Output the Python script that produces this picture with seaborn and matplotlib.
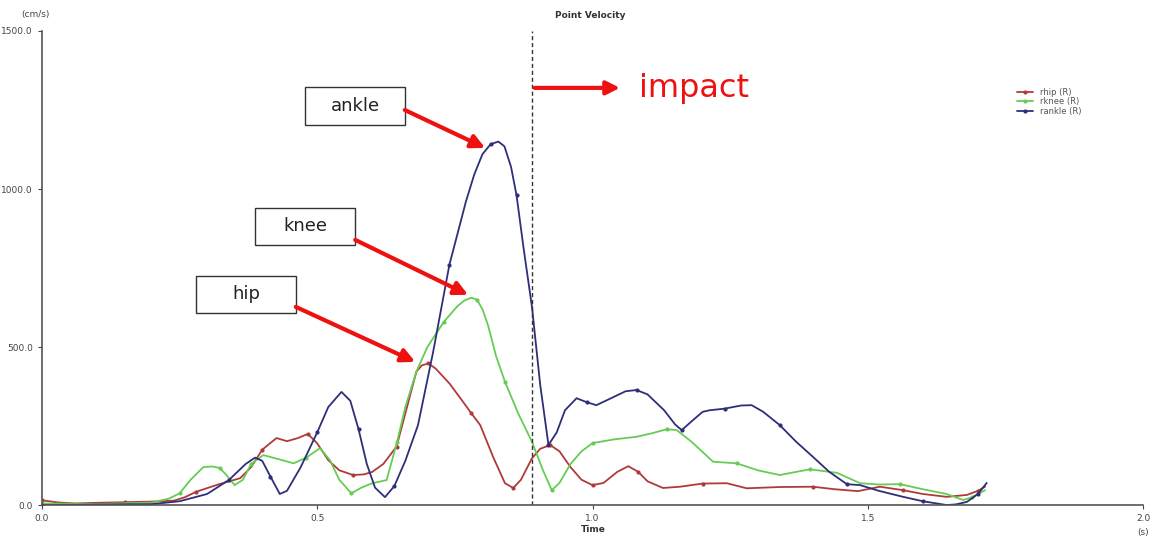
import numpy as np
import pandas as pd
import matplotlib
matplotlib.use("Agg")
import matplotlib.pyplot as plt
from matplotlib.patches import Rectangle
import seaborn as sns

# ---- data ----
hip_t = [0.0, 0.03, 0.06, 0.10, 0.15, 0.20, 0.24, 0.26, 0.28, 0.32, 0.36, 0.38, 0.40, 0.426, 0.445,
         0.465, 0.483, 0.50, 0.52, 0.54, 0.565, 0.585, 0.60, 0.62, 0.644, 0.66, 0.68, 0.69, 0.702, 0.715,
         0.74, 0.76, 0.78, 0.796, 0.82, 0.841, 0.856, 0.87, 0.89, 0.905, 0.923, 0.94, 0.96, 0.98,
         1.0, 1.02, 1.045, 1.065, 1.083, 1.10, 1.128, 1.159, 1.20, 1.244, 1.28, 1.34, 1.40, 1.44,
         1.482, 1.522, 1.564, 1.60, 1.643, 1.68, 1.70, 1.713]
hip_v = [15, 8, 5, 7, 9, 11, 14, 25, 42, 65, 85, 120, 175, 212, 202,
         212, 225, 195, 142, 110, 95, 97, 105, 130, 185, 290, 422, 442, 448, 432,
         385, 338, 290, 253, 150, 69, 54, 80, 148, 178, 190, 170, 120, 80,
         63, 70, 105, 123, 105, 75, 54, 58, 68, 69, 53, 57, 58, 50,
         44, 58, 47, 35, 26, 32, 45, 58]

knee_t = [0.0, 0.10, 0.20, 0.23, 0.25, 0.27, 0.293, 0.31, 0.323, 0.335, 0.35, 0.365, 0.38, 0.402,
          0.43, 0.457, 0.48, 0.505, 0.523, 0.54, 0.562, 0.58, 0.60, 0.626, 0.645, 0.66, 0.68, 0.70,
          0.73, 0.755, 0.768, 0.78, 0.79, 0.80, 0.81, 0.825, 0.841, 0.865, 0.89, 0.91, 0.926, 0.94,
          0.96, 0.98, 1.0, 1.04, 1.08, 1.11, 1.135, 1.153, 1.18, 1.219, 1.262, 1.30, 1.34, 1.37,
          1.395, 1.444, 1.486, 1.52, 1.559, 1.60, 1.643, 1.673, 1.69, 1.713]
knee_v = [5, 3, 8, 20, 37, 80, 120, 122, 117, 95, 63, 80, 130, 158,
          145, 132, 150, 180, 142, 80, 37, 55, 69, 79, 200, 310, 422, 500,
          580, 630, 648, 656, 650, 620, 570, 470, 390, 290, 200, 110, 47, 70,
          130, 170, 196, 208, 216, 228, 240, 237, 200, 137, 132, 110, 95, 105,
          113, 102, 69, 65, 66, 50, 35, 16, 25, 47]

ankle_t = [0.0, 0.20, 0.25, 0.30, 0.34, 0.37, 0.387, 0.40, 0.415, 0.432, 0.445, 0.47, 0.50, 0.52,
           0.544, 0.56, 0.575, 0.59, 0.605, 0.623, 0.64, 0.66, 0.683, 0.71, 0.74, 0.77, 0.785, 0.80,
           0.815, 0.829, 0.84, 0.852, 0.862, 0.875, 0.89, 0.905, 0.92, 0.935, 0.95, 0.971, 0.99,
           1.007, 1.03, 1.06, 1.08, 1.10, 1.13, 1.15, 1.162, 1.18, 1.20, 1.213, 1.24, 1.27, 1.289,
           1.31, 1.34, 1.37, 1.40, 1.43, 1.462, 1.486, 1.52, 1.564, 1.60, 1.643, 1.66, 1.68, 1.70,
           1.716]
ankle_v = [0, 3, 12, 35, 80, 130, 150, 140, 90, 35, 45, 120, 230, 310,
           358, 330, 240, 130, 55, 25, 60, 140, 253, 480, 760, 960, 1045, 1110,
           1142, 1150, 1135, 1070, 980, 810, 627, 380, 190, 230, 300, 338, 325,
           316, 335, 360, 364, 350, 300, 255, 237, 265, 295, 300, 305, 315, 316,
           295, 253, 200, 153, 105, 66, 63, 45, 26, 12, 0, 2, 10, 35,
           70]

series_names = ["rhip (R)", "rknee (R)", "rankle (R)"]
impact_t = 0.89
x_ticks = [0.0, 0.5, 1.0, 1.5, 2.0]
y_ticks = [0.0, 500.0, 1000.0, 1500.0]

df = pd.concat([
    pd.DataFrame({"t": hip_t, "v": hip_v, "s": series_names[0]}),
    pd.DataFrame({"t": knee_t, "v": knee_v, "s": series_names[1]}),
    pd.DataFrame({"t": ankle_t, "v": ankle_v, "s": series_names[2]}),
])

sns.set_style("white")
plt.rcParams["font.family"] = ["DejaVu Sans"]

fig = plt.figure(figsize=(11.53, 5.39), dpi=100)
ax = fig.add_axes([0.0364, 0.063, 0.955, 0.8795])

palette = {series_names[0]: "#b03a3a", series_names[1]: "#66cc55", series_names[2]: "#2e2e7a"}
sns.lineplot(data=df, x="t", y="v", hue="s", palette=palette, ax=ax, sort=False,
             estimator=None, marker="o", markersize=3, markeredgewidth=0, markevery=4,
             linewidth=1.3)

ax.set_xlim(0, 2.0)
ax.set_ylim(0, 1500)
ax.set_xticks(x_ticks)
ax.set_xticklabels([f"{v:.1f}" for v in x_ticks])
ax.set_yticks(y_ticks)
ax.set_yticklabels([f"{v:.1f}" for v in y_ticks])
ax.tick_params(axis="both", labelsize=6.5, colors="#444444", length=3, width=0.8, direction="out")
ax.xaxis.set_ticks_position("bottom")
ax.yaxis.set_ticks_position("left")
for s in ["top", "right"]:
    ax.spines[s].set_visible(False)
for s in ["left", "bottom"]:
    ax.spines[s].set_color("#555555")
    ax.spines[s].set_linewidth(1.2)
ax.set_xlabel("")
ax.set_ylabel("")

fig.text(0.512, 0.972, "Point Velocity", ha="center", va="center", fontsize=6.5, fontweight="bold", color="#333333")
fig.text(0.018, 0.974, "(cm/s)", ha="left", va="center", fontsize=6.5, color="#444444")
fig.text(0.515, 0.017, "Time", ha="center", va="center", fontsize=6.5, fontweight="bold", color="#333333")
fig.text(0.991, 0.012, "(s)", ha="center", va="center", fontsize=6.5, color="#444444")

ax.axvline(impact_t, color="#333333", linestyle=(0, (3, 2)), linewidth=1.0)

leg = ax.legend(loc="upper left", bbox_to_anchor=(0.88, 0.893), frameon=False, fontsize=6,
                handlelength=2.0, labelspacing=0.1, borderpad=0.2)
for txt in leg.get_texts():
    txt.set_color("#555555")

arrow = dict(arrowstyle="-|>,head_length=0.8,head_width=0.4", color="#ee1111", lw=3,
             shrinkA=0, shrinkB=0)

# label boxes (data coords): x0, x1, y0, y1, text
boxes = [(0.478, 0.659, 1203, 1323, "ankle"),
         (0.387, 0.569, 823, 940, "knee"),
         (0.280, 0.461, 608, 725, "hip")]
for x0, x1, y0, y1, lab in boxes:
    ax.add_patch(Rectangle((x0, y0), x1 - x0, y1 - y0, facecolor="white",
                           edgecolor="#333333", linewidth=1.0, zorder=5))
    ax.text((x0 + x1) / 2, (y0 + y1) / 2, lab, fontsize=13, ha="center", va="center",
            color="#222222", zorder=6)

ax.annotate("", xy=(0.805, 1130), xytext=(0.659, 1250), arrowprops=arrow, zorder=7)
ax.annotate("", xy=(0.774, 665), xytext=(0.569, 839), arrowprops=arrow, zorder=7)
ax.annotate("", xy=(0.678, 453), xytext=(0.461, 627), arrowprops=arrow, zorder=7)
ax.annotate("", xy=(1.05, 1320), xytext=(0.895, 1320), arrowprops=arrow)
ax.text(1.085, 1318, "impact", color="#ee1111", fontsize=23, ha="left", va="center")

fig.savefig("out.png", dpi=100, facecolor="white")
